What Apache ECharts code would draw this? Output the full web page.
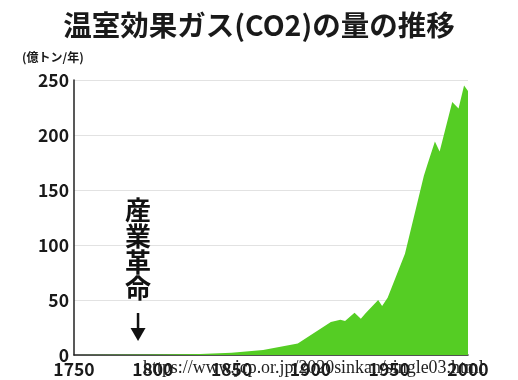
<!DOCTYPE html>
<html>
<head>
<meta charset="utf-8">
<script src="https://cdn.jsdelivr.net/npm/echarts@6/dist/echarts.min.js"></script>
<style>
  html, body { margin: 0; padding: 0; background: #fff; }
  #chart { width: 518px; height: 380px; }
</style>
</head>
<body>
<div id="chart"></div>
<script>
// Annual CO2 emissions (100 million tonnes per year), by year
const years = [1750, 1800, 1830, 1850, 1870, 1892, 1913, 1919, 1922, 1928, 1932, 1935, 1943, 1945.5, 1949, 1960, 1972, 1974, 1979, 1982, 1990, 1994, 1997.5, 2000];
const emissions = [0, 0.5, 1, 2, 4.5, 10.5, 30, 32, 31, 38.5, 33, 38, 50, 44.5, 52, 92, 163, 172, 194, 185, 230, 224, 245, 240];
const yTicks = [0, 50, 100, 150, 200, 250];
const xTicks = [1750, 1800, 1850, 1900, 1950, 2000];
const titleText = '温室効果ガス(CO2)の量の推移';
const unitText = '(億トン/年)';
const eventText = '産業革命';
const eventYear = 1790;
const sourceText = 'https://www.jcp.or.jp/2020sinkan/single03.html';

const FONT = '"Noto Sans CJK JP", "Noto Sans", sans-serif';
const chart = echarts.init(document.getElementById('chart'));

chart.setOption({
  animation: false,
  backgroundColor: '#ffffff',
  title: {
    text: titleText,
    left: 'center',
    top: 6,
    textStyle: { fontFamily: FONT, fontSize: 28.5, fontWeight: 'bold', color: '#1a1a1a' }
  },
  grid: { left: 74, right: 50, top: 80, bottom: 25 },
  xAxis: {
    type: 'value',
    min: xTicks[0],
    max: xTicks[xTicks.length - 1],
    interval: 50,
    axisLine: { show: true, lineStyle: { color: '#222', width: 1.5 } },
    axisTick: { show: false },
    splitLine: { show: false },
    axisLabel: {
      margin: 6,
      fontFamily: FONT, fontSize: 17.5, fontWeight: 'bold', color: '#1a1a1a',
      formatter: v => xTicks.includes(v) ? String(v) : ''
    }
  },
  yAxis: {
    type: 'value',
    min: yTicks[0],
    max: yTicks[yTicks.length - 1],
    interval: 50,
    axisLine: { show: true, lineStyle: { color: '#222', width: 1.5 } },
    axisTick: { show: false },
    splitLine: { show: true, lineStyle: { color: '#e2e2e2', width: 1 } },
    axisLabel: {
      margin: 5,
      fontFamily: FONT, fontSize: 17.5, fontWeight: 'bold', color: '#1a1a1a',
      formatter: v => yTicks.includes(v) ? String(v) : ''
    }
  },
  series: [{
    type: 'line',
    data: years.map((y, i) => [y, emissions[i]]),
    symbol: 'none',
    lineStyle: { width: 0 },
    areaStyle: { color: '#55cd24', opacity: 1 },
    z: 3
  }]
});

// Annotations: unit label, the vertical event label with arrow, and the source URL
const ex = chart.convertToPixel({ xAxisIndex: 0 }, eventYear);
chart.setOption({
  graphic: [
    {
      type: 'text', left: 22, top: 51,
      style: { text: unitText, fontFamily: FONT, fontSize: 12, fontWeight: 'bold', fill: '#1a1a1a' }
    },
    {
      type: 'text', x: ex + 1, y: 197,
      style: {
        text: eventText.split('').join('\n'),
        fontFamily: FONT, fontSize: 26, fontWeight: 'bold', lineHeight: 26,
        fill: '#111', align: 'center', verticalAlign: 'top'
      }
    },
    {
      type: 'line',
      shape: { x1: ex + 1, y1: 313, x2: ex + 1, y2: 330 },
      style: { stroke: '#111', lineWidth: 2.5 }
    },
    {
      type: 'polygon',
      shape: { points: [[ex - 6.5, 328], [ex + 8.5, 328], [ex + 1, 341]] },
      style: { fill: '#111' }
    },
    {
      type: 'text', x: 143, y: 359, z: 10,
      style: {
        text: sourceText,
        fontFamily: '"Liberation Serif", "DejaVu Serif", serif', fontSize: 17.9,
        fill: '#222', align: 'left', verticalAlign: 'alphabetic'
      }
    }
  ]
});
</script>
</body>
</html>
